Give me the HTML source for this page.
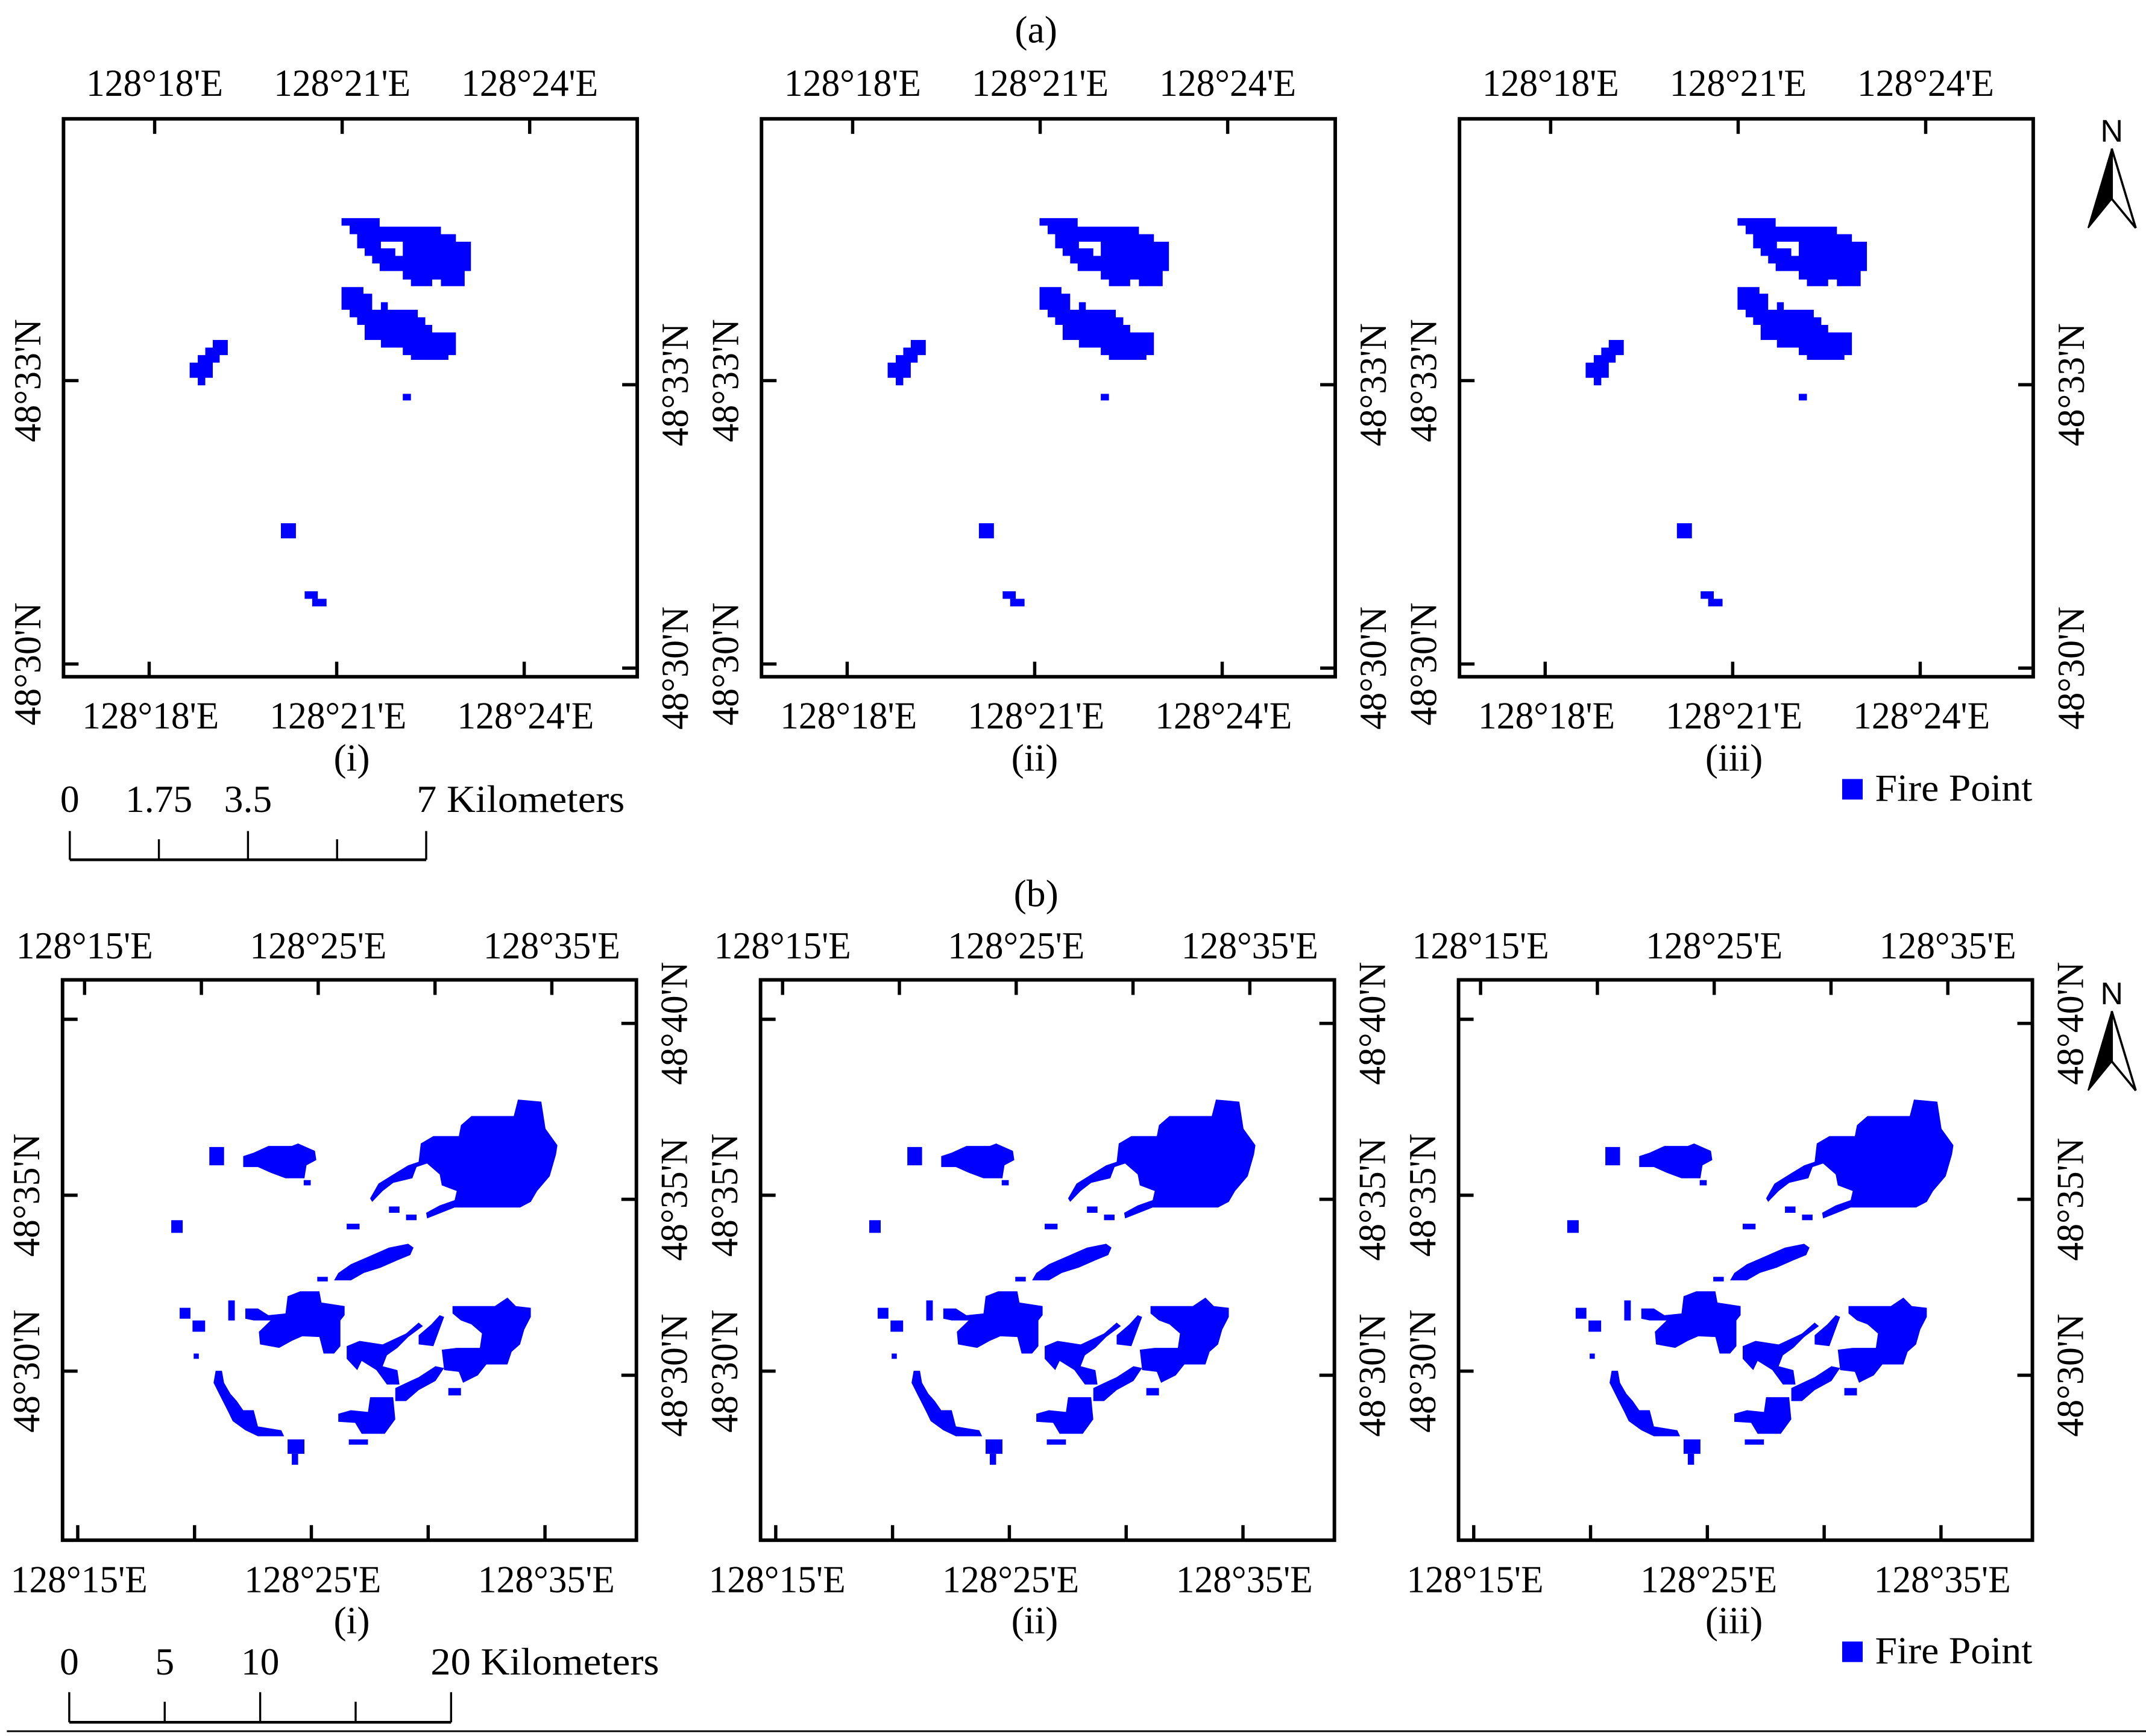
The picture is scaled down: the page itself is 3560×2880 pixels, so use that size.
<!DOCTYPE html>
<html><head><meta charset="utf-8"><style>
html,body{margin:0;padding:0;background:#fff;}
svg{display:block;}
text{font-family:"Liberation Serif",serif;fill:#000;}
</style></head><body>
<svg id="chart" xmlns="http://www.w3.org/2000/svg" width="3560" height="2880" viewBox="0 0 1568 1268" preserveAspectRatio="none">
<rect x="0" y="0" width="1568" height="1268" fill="#fff"/>
</svg>
<script>
// ---- data ----
const panelOffsets = [0, 510, 1020];
const panelNames = ['(i)', '(ii)', '(iii)'];
const subtitleX = [257, 756, 1267];
// Row (a): longitude / latitude ticks in arc-minutes
const lonTicksA = [18, 21, 24];
const latTicksA = [33, 30];
// Row (b)
const lonTicksB = [15, 20, 25, 30, 35];
const lonLabelsB = [15, 25, 35];
const latTicksB = [40, 35, 30];
const latLeftLabelsB = [35, 30];
// Scale bars (km)
const scaleTicksA = [0, 1.75, 3.5, 5.25, 7];
const scaleLabelsA = ['0', '1.75', '3.5'];
const scaleTicksB = [0, 5, 10, 15, 20];
const scaleLabelsB = ['0', '5', '10'];
// Fire polygons row (a) in [lon', lat'] (128°E / 48°N minutes)
const fireBlobUpperA = [[20.99,34.72],[21.60,34.72],[21.60,34.63],[22.58,34.63],[22.58,34.55],[22.82,34.55],[22.82,34.47],[23.06,34.47],[23.06,34.16],[22.96,34.16],[22.96,34.00],[22.58,34.00],[22.58,34.07],[22.44,34.07],[22.44,34.00],[22.10,34.00],[22.10,34.07],[21.97,34.07],[21.97,34.16],[21.60,34.16],[21.60,34.24],[21.48,34.24],[21.48,34.32],[21.36,34.32],[21.36,34.40],[21.24,34.40],[21.24,34.55],[21.12,34.55],[21.12,34.64],[20.99,34.64]];
const fireHoleA = [[21.62,34.47],[21.97,34.47],[21.97,34.32],[21.85,34.32],[21.85,34.40],[21.62,34.40]];
const fireBlobLowerA = [[20.99,33.99],[21.34,33.99],[21.34,33.92],[21.48,33.92],[21.48,33.75],[21.62,33.75],[21.62,33.83],[21.73,33.83],[21.73,33.75],[22.21,33.75],[22.21,33.67],[22.33,33.67],[22.33,33.59],[22.44,33.59],[22.44,33.51],[22.82,33.51],[22.82,33.27],[22.70,33.27],[22.70,33.22],[22.10,33.22],[22.10,33.27],[21.97,33.27],[21.97,33.35],[21.62,33.35],[21.62,33.43],[21.36,33.43],[21.36,33.59],[21.24,33.59],[21.24,33.67],[21.12,33.67],[21.12,33.75],[20.99,33.75]];
const fireBlobWestA = [[18.93,33.43],[19.17,33.43],[19.17,33.27],[19.04,33.27],[19.04,33.19],[18.93,33.19],[18.93,33.03],[18.81,33.03],[18.81,32.95],[18.69,32.95],[18.69,33.03],[18.56,33.03],[18.56,33.19],[18.69,33.19],[18.69,33.27],[18.81,33.27],[18.81,33.35],[18.93,33.35]];
// spots: [lonMin, latMax, lonMax, latMin]
const fireSpotsA = [[21.97,32.86,22.10,32.79],[20.02,31.49,20.26,31.33],[20.40,30.77,20.61,30.69],[20.52,30.69,20.75,30.61]];
// Fire polygons row (b)
const fireBlobNE = [[31.56,37.25],[33.37,37.25],[33.55,37.72],[34.55,37.66],[34.73,36.89],[35.24,36.42],[35.18,36.16],[34.91,35.54],[34.37,35.12],[34.10,34.81],[33.64,34.65],[30.84,34.65],[29.66,34.34],[29.62,34.50],[30.20,34.71],[30.84,34.86],[30.93,35.12],[30.29,35.28],[30.20,35.59],[29.66,35.90],[29.21,35.80],[29.03,35.48],[28.21,35.35],[27.76,35.12],[27.31,34.81],[27.22,34.91],[27.58,35.33],[28.21,35.59],[28.85,35.85],[29.30,35.95],[29.39,36.47],[29.93,36.68],[31.02,36.68],[31.11,36.99]];
const fireBlobNW = [[21.79,36.11],[22.24,36.21],[22.87,36.40],[23.87,36.40],[24.14,36.47],[24.86,36.26],[24.92,36.00],[24.50,35.85],[24.41,35.48],[23.60,35.48],[22.96,35.64],[22.42,35.80],[21.79,35.80]];
const fireStripMid = [[25.68,32.58],[25.86,32.79],[26.40,33.04],[27.13,33.25],[28.03,33.51],[28.85,33.62],[29.08,33.51],[28.94,33.30],[28.39,33.15],[27.67,32.94],[26.95,32.79],[26.40,32.58]];
const fireBlobWest = [[21.88,31.78],[22.42,31.78],[22.87,31.59],[23.60,31.64],[23.69,32.13],[24.23,32.27],[25.05,32.27],[25.14,31.95],[26.13,31.85],[26.13,31.59],[25.95,31.44],[25.95,30.71],[25.68,30.50],[25.23,30.50],[25.05,30.97],[24.32,30.99],[23.87,30.86],[23.33,30.66],[22.51,30.76],[22.46,31.12],[22.96,31.44],[22.24,31.44],[21.88,31.49]];
const fireBlobSE = [[30.75,31.85],[32.56,31.85],[33.10,32.09],[33.46,31.85],[34.10,31.80],[34.10,31.54],[33.82,31.18],[33.64,30.76],[33.28,30.55],[33.10,30.19],[32.20,30.19],[31.83,29.88],[31.20,29.67],[31.02,29.98],[30.39,30.03],[30.29,30.61],[30.93,30.66],[31.92,30.66],[32.01,31.07],[31.56,31.33],[31.11,31.44],[30.75,31.64]];
const fireStripSouth = [[26.22,30.71],[26.77,30.86],[27.76,30.76],[28.76,31.07],[29.30,31.38],[29.48,31.28],[28.85,30.97],[28.39,30.66],[27.94,30.45],[27.76,30.14],[28.39,30.03],[28.48,29.62],[27.94,29.62],[27.49,30.03],[26.86,30.29],[26.67,30.03],[26.22,30.35]];
const fireStripLow = [[29.30,29.83],[30.02,30.14],[30.39,30.09],[30.02,29.72],[29.30,29.46],[28.76,29.15],[28.30,29.15],[28.30,29.52],[28.94,29.72]];
const fireStripLink = [[30.20,31.59],[30.39,31.54],[29.93,30.71],[29.30,30.76],[29.30,31.02],[29.84,31.33]];
const fireBlobBottom = [[25.86,28.79],[26.40,28.89],[27.13,28.84],[27.22,29.26],[28.21,29.26],[28.30,28.63],[27.85,28.22],[26.86,28.22],[26.58,28.53],[25.86,28.56]];
const fireArc = [[20.61,30.01],[20.88,30.01],[20.97,29.67],[21.24,29.36],[21.52,29.15],[21.79,28.89],[22.24,28.89],[22.42,28.43],[23.42,28.32],[23.54,28.15],[22.42,28.15],[21.88,28.32],[21.34,28.58],[21.15,28.84],[20.79,29.31],[20.52,29.67]];
const fireSpotsB = [[20.34,36.37,20.97,35.85],[24.38,35.43,24.68,35.28],[18.71,34.29,19.20,33.93],[26.22,34.19,26.77,34.03],[28.03,34.68,28.48,34.50],[28.76,34.45,29.21,34.29],[24.96,32.68,25.41,32.55],[19.07,31.80,19.53,31.49],[19.62,31.44,20.16,31.12],[21.15,32.01,21.43,31.44],[26.31,28.06,27.13,27.91],[23.69,28.06,24.41,27.65],[23.87,27.65,24.14,27.34],[19.67,30.50,19.89,30.35],[30.57,29.52,31.11,29.31]];
const firePolysA = [fireBlobUpperA, fireBlobLowerA, fireBlobWestA];
const firePolysB = [fireBlobNE, fireBlobNW, fireStripMid, fireBlobWest, fireBlobSE, fireStripSouth, fireStripLow, fireStripLink, fireBlobBottom, fireArc];

// ---- drawing ----
const NS = 'http://www.w3.org/2000/svg';
const svg = document.getElementById('chart');
function mk(tag, attrs, parent) {
  const e = document.createElementNS(NS, tag);
  for (const k in attrs) e.setAttribute(k, attrs[k]);
  (parent || svg).appendChild(e);
  return e;
}
const BLUE = '#0000ff';
const rows = {
  a: { top: 86.8, bottom: 494.3, left: 46.4, right: 465.6,
       x: (lon, ox) => ox + 113 + (lon - 18) * 45.67,
       y: (lat) => 278 + (33 - lat) * 69,
       lonTicks: lonTicksA, lonLabels: lonTicksA, latTicks: latTicksA, latLeft: latTicksA, latRight: latTicksA,
       topBase: 70, botBase: 532, subBase: 563, botShift: -4,
       polys: firePolysA, holes: [fireHoleA], spots: fireSpotsA },
  b: { top: 715.7, bottom: 1125, left: 45.7, right: 465,
       x: (lon, ox) => ox + 61.8 + (lon - 15) * 17.07,
       y: (lat) => 873 + (35 - lat) * 25.7,
       lonTicks: lonTicksB, lonLabels: lonLabelsB, latTicks: latTicksB, latLeft: latLeftLabelsB, latRight: latTicksB,
       topBase: 700, botBase: 1163, subBase: 1193, botShift: -5,
       polys: firePolysB, holes: [], spots: fireSpotsB }
};
function pathOf(pts, R, ox) {
  return pts.map((p, i) => (i ? 'L' : 'M') + R.x(p[0], ox).toFixed(2) + ',' + R.y(p[1]).toFixed(2)).join('') + 'Z';
}
function fmtLon(m) { return '128°' + m + "'E"; }
function fmtLat(m) { return '48°' + m + "'N"; }

for (const key of ['a', 'b']) {
  const R = rows[key];
  panelOffsets.forEach((ox, pi) => {
    const g = mk('g', {});
    
    
    R.polys.forEach((poly) => {
      const p = mk('path', { d: pathOf(poly, R, ox), fill: BLUE }, g);
      
      
    });
    R.holes.forEach((poly) => {
      const p = mk('path', { d: pathOf(poly, R, ox), fill: '#fff' }, g);
      
      
    });
    R.spots.forEach((s) => {
      const x0 = R.x(s[0], ox), x1 = R.x(s[2], ox), y0 = R.y(s[1]), y1 = R.y(s[3]);
      const r = mk('rect', { x: x0, y: y0, width: x1 - x0, height: y1 - y0, fill: BLUE }, g);
      
      
    });
    const L = R.left + ox, Rr = R.right + ox;
    const fr = mk('rect', { x: L, y: R.top, width: Rr - L, height: R.bottom - R.top, fill: 'none', stroke: '#000', 'stroke-width': 2.6 }, g);
    
    
    R.lonTicks.forEach((lon) => {
      const x = R.x(lon, ox);
      const t1 = mk('line', { x1: x, y1: R.top, x2: x, y2: R.top + 11, stroke: '#000', 'stroke-width': 2.4 }, g);
      
      
      const xb = x + R.botShift;
      const t2 = mk('line', { x1: xb, y1: R.bottom, x2: xb, y2: R.bottom - 11, stroke: '#000', 'stroke-width': 2.4 }, g);
      
      
    });
    R.lonLabels.forEach((lon) => {
      const x = R.x(lon, ox);
      const tt = mk('text', { x: x, y: R.topBase, 'font-size': 28, 'text-anchor': 'middle', textLength: 100, lengthAdjust: 'spacingAndGlyphs' }, g);
      tt.textContent = fmtLon(lon);
      
      
      const tb = mk('text', { x: x + R.botShift + 1, y: R.botBase, 'font-size': 28, 'text-anchor': 'middle', textLength: 100, lengthAdjust: 'spacingAndGlyphs' }, g);
      tb.textContent = fmtLon(lon);
      
      
    });
    R.latTicks.forEach((lat) => {
      const y = R.y(lat);
      const t1 = mk('line', { x1: L, y1: y, x2: L + 11, y2: y, stroke: '#000', 'stroke-width': 2.4 }, g);
      
      
      const t2 = mk('line', { x1: Rr, y1: y + 3, x2: Rr - 11, y2: y + 3, stroke: '#000', 'stroke-width': 2.4 }, g);
      
      
    });
    R.latLeft.forEach((lat) => {
      const y = R.y(lat);
      const t = mk('text', { transform: 'translate(' + (L - 17) + ',' + y + ') rotate(-90)', 'font-size': 28, 'text-anchor': 'middle', textLength: 90, lengthAdjust: 'spacingAndGlyphs' }, g);
      t.textContent = fmtLat(lat);
      
      
    });
    R.latRight.forEach((lat) => {
      const y = R.y(lat) + 3;
      const t = mk('text', { transform: 'translate(' + (Rr + 37) + ',' + y + ') rotate(-90)', 'font-size': 28, 'text-anchor': 'middle', textLength: 90, lengthAdjust: 'spacingAndGlyphs' }, g);
      t.textContent = fmtLat(lat);
      
      
    });
    const st = mk('text', { x: subtitleX[pi], y: R.subBase, 'font-size': 28, 'text-anchor': 'middle' }, g);
    st.textContent = panelNames[pi];
    
    
  });
}

const ta = mk('text', { x: 757, y: 31, 'font-size': 28, 'text-anchor': 'middle' });
ta.textContent = '(a)';


const tbt = mk('text', { x: 757, y: 662, 'font-size': 28, 'text-anchor': 'middle' });
tbt.textContent = '(b)';



function scaleBar(ticks, labels, unitLabel, unitLen, unitShift, pxPerKm, x0, labelBase, topMajor, topMinor, barY, name) {
  const g = mk('g', {});
  
  
  const xEnd = x0 + ticks[ticks.length - 1] * pxPerKm;
  mk('line', { x1: x0, y1: barY, x2: xEnd, y2: barY, stroke: '#000', 'stroke-width': 2 }, g);
  ticks.forEach((km, i) => {
    const x = x0 + km * pxPerKm;
    const tk = mk('line', { x1: x, y1: (i % 2 === 0) ? topMajor : topMinor, x2: x, y2: barY, stroke: '#000', 'stroke-width': 1.5 }, g);
    
    
  });
  labels.forEach((lb, i) => {
    const t = mk('text', { x: x0 + ticks[i] * pxPerKm, y: labelBase, 'font-size': 28, 'text-anchor': 'middle' }, g);
    t.textContent = lb;
    
    
  });
  const u = mk('text', { x: xEnd - unitShift, y: labelBase, 'font-size': 28, textLength: unitLen, lengthAdjust: 'spacingAndGlyphs' }, g);
  u.textContent = unitLabel;
  
  
}
scaleBar(scaleTicksA, scaleLabelsA, '7 Kilometers', 152, 7, 37.2, 51, 593, 607, 613, 628, 'scale-bar-a');
scaleBar(scaleTicksB, scaleLabelsB, '20 Kilometers', 167, 15, 13.95, 50.6, 1223, 1236, 1243, 1258, 'scale-bar-b');

[0, 630].forEach((dy, i) => {
  const lg = mk('g', {});
  
  
  mk('rect', { x: 1346, y: 569 + dy, width: 15, height: 15, fill: BLUE }, lg);
  const lt = mk('text', { x: 1370, y: 585 + dy, 'font-size': 28, textLength: 115, lengthAdjust: 'spacingAndGlyphs' }, lg);
  lt.textContent = 'Fire Point';
  const na = mk('g', { transform: 'translate(0,' + dy + ')' });
  
  
  const nt = mk('text', { x: 1543, y: 103.5, 'font-size': 23, 'text-anchor': 'middle', style: 'font-family:"Liberation Sans",sans-serif' }, na);
  nt.textContent = 'N';
  mk('polygon', { points: '1543,108.6 1543,145.3 1525.7,166.5', fill: '#000', stroke: '#000', 'stroke-width': 1 }, na);
  mk('polygon', { points: '1543,108.6 1560.5,166.5 1543,145.3', fill: '#fff', stroke: '#000', 'stroke-width': 1.6, 'stroke-linejoin': 'miter' }, na);
});

const bl = mk('line', { x1: 5, y1: 1264.5, x2: 1568, y2: 1264.5, stroke: '#000', 'stroke-width': 1.3 });


</script>
</body></html>
